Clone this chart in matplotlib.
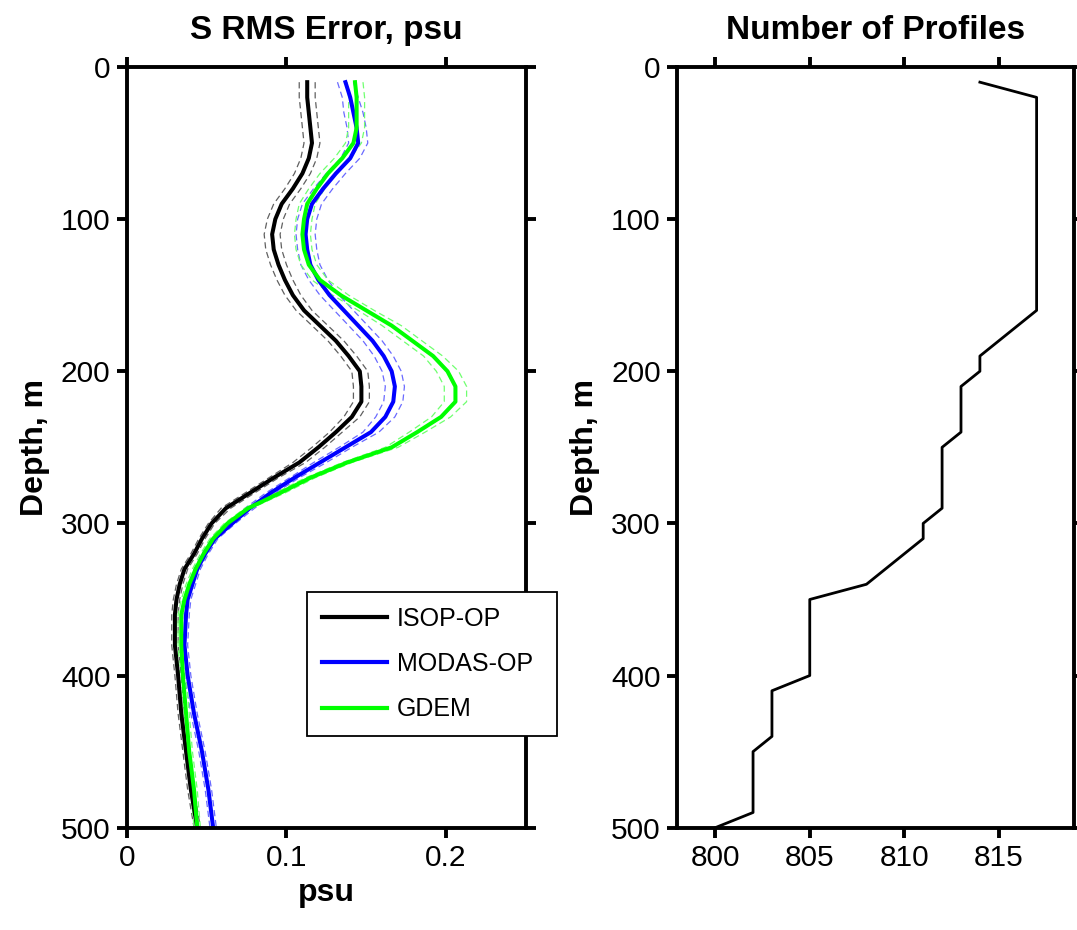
import matplotlib
matplotlib.use("Agg")
import matplotlib.pyplot as plt
from matplotlib.ticker import FuncFormatter

plt.rcParams['font.family'] = ['Liberation Sans', 'DejaVu Sans']

# ---- data ----
depth = [10, 20, 30, 40, 50, 60, 70, 80, 90, 100, 110, 120, 130, 140, 150, 160,
         170, 180, 190, 200, 210, 220, 230, 240, 250, 260, 270, 280, 290, 300,
         310, 320, 330, 340, 350, 360, 380, 400, 425, 450, 475, 500]

isop = [0.113, 0.113, 0.114, 0.115, 0.116, 0.114, 0.110, 0.104, 0.097, 0.093,
        0.091, 0.092, 0.095, 0.099, 0.104, 0.111, 0.121, 0.131, 0.139, 0.146,
        0.147, 0.147, 0.141, 0.131, 0.120, 0.108, 0.092, 0.077, 0.062, 0.053,
        0.047, 0.042, 0.036, 0.033, 0.031, 0.030, 0.030, 0.032, 0.034, 0.037,
        0.040, 0.044]

modas = [0.137, 0.140, 0.142, 0.144, 0.145, 0.140, 0.131, 0.123, 0.116, 0.113,
         0.112, 0.113, 0.115, 0.120, 0.127, 0.136, 0.145, 0.154, 0.161, 0.166,
         0.168, 0.167, 0.162, 0.153, 0.137, 0.121, 0.105, 0.090, 0.077, 0.066,
         0.055, 0.049, 0.044, 0.041, 0.038, 0.037, 0.036, 0.038, 0.042, 0.047,
         0.051, 0.054]

gdem = [0.143, 0.144, 0.144, 0.144, 0.142, 0.135, 0.126, 0.119, 0.113, 0.111,
        0.110, 0.111, 0.114, 0.121, 0.134, 0.150, 0.166, 0.179, 0.192, 0.201,
        0.206, 0.206, 0.197, 0.182, 0.166, 0.138, 0.115, 0.096, 0.076, 0.063,
        0.054, 0.048, 0.043, 0.039, 0.036, 0.034, 0.034, 0.035, 0.037, 0.039,
        0.042, 0.044]

# half-width of the dashed confidence bands
isop_err = [0.005, 0.005, 0.005, 0.005, 0.005, 0.005, 0.005, 0.005, 0.005, 0.005,
            0.005, 0.005, 0.005, 0.005, 0.005, 0.005, 0.005, 0.005, 0.005, 0.005,
            0.005, 0.005, 0.005, 0.004, 0.004, 0.004, 0.003, 0.003, 0.003, 0.002,
            0.002, 0.002, 0.002, 0.002, 0.002, 0.002, 0.002, 0.002, 0.002, 0.002,
            0.002, 0.002]
modas_err = [0.005, 0.005, 0.006, 0.006, 0.006, 0.006, 0.006, 0.006, 0.006, 0.006,
             0.006, 0.006, 0.006, 0.006, 0.006, 0.006, 0.006, 0.006, 0.006, 0.006,
             0.006, 0.006, 0.006, 0.005, 0.004, 0.004, 0.003, 0.003, 0.003, 0.002,
             0.002, 0.002, 0.002, 0.002, 0.002, 0.002, 0.002, 0.002, 0.002, 0.002,
             0.002, 0.002]
gdem_err = [0.005, 0.005, 0.005, 0.005, 0.005, 0.005, 0.005, 0.005, 0.005, 0.005,
            0.005, 0.005, 0.005, 0.005, 0.005, 0.005, 0.006, 0.006, 0.006, 0.007,
            0.007, 0.007, 0.006, 0.005, 0.004, 0.003, 0.003, 0.003, 0.002, 0.002,
            0.002, 0.002, 0.002, 0.002, 0.002, 0.002, 0.002, 0.002, 0.002, 0.002,
            0.002, 0.002]

prof_depth = [10, 20, 160, 190, 200, 210, 240, 250, 290, 300, 310, 320, 330, 340,
              350, 400, 410, 440, 450, 490, 500]
prof_count = [814, 817, 817, 814, 814, 813, 813, 812, 812, 811, 811, 810, 809, 808,
              805, 805, 803, 803, 802, 802, 800]

series = [("ISOP-OP", isop, isop_err, "#000000", "#606060"),
          ("MODAS-OP", modas, modas_err, "#0000ff", "#6a6aff"),
          ("GDEM", gdem, gdem_err, "#00ff00", "#70ff70")]

# ---- figure ----
fig = plt.figure(figsize=(10.77, 9.30), dpi=100)
ax1 = fig.add_axes([0.118, 0.110, 0.370, 0.818])
ax2 = fig.add_axes([0.629, 0.110, 0.3686, 0.818])

TICK_FS = 21.5
TITLE_FS = 24
LABEL_FS = 23

for name, vals, err, col, dcol in series:
    lo = [v - e for v, e in zip(vals, err)]
    hi = [v + e for v, e in zip(vals, err)]
    ax1.plot(lo, depth, color=dcol, lw=0.9, ls=(0, (5, 3)))
    ax1.plot(hi, depth, color=dcol, lw=0.9, ls=(0, (5, 3)))
for name, vals, err, col, dcol in series:
    ax1.plot(vals, depth, color=col, lw=2.9, label=name)

ax1.set_xlim(0, 0.25)
ax1.set_ylim(500, 0)
ax1.set_xticks([0, 0.1, 0.2])
ax1.xaxis.set_major_formatter(FuncFormatter(lambda v, p: "0" if v == 0 else f"{v:g}"))
ax1.set_yticks([0, 100, 200, 300, 400, 500])
ax1.set_title("S RMS Error, psu", fontsize=TITLE_FS, fontweight='bold', pad=20)
ax1.set_xlabel("psu", fontsize=LABEL_FS, fontweight='bold', labelpad=4)
ax1.set_ylabel("Depth, m", fontsize=LABEL_FS, fontweight='bold', labelpad=8)

leg = ax1.legend(loc='upper left', bbox_to_anchor=(0.451, 0.117, 0.627, 0.193),
                 mode='expand', fontsize=18,
                 frameon=True, fancybox=False, framealpha=1.0, handlelength=2.6,
                 handletextpad=0.4, borderpad=0.6, labelspacing=0.85, borderaxespad=0)
leg.get_frame().set_edgecolor('black')
leg.get_frame().set_linewidth(1.3)
leg.set_zorder(10)
for line in leg.get_lines():
    line.set_linewidth(3.0)

ax2.plot(prof_count, prof_depth, color='black', lw=2.0)
ax2.set_xlim(798, 819)
ax2.set_ylim(500, 0)
ax2.set_xticks([800, 805, 810, 815])
ax2.set_yticks([0, 100, 200, 300, 400, 500])
ax2.set_title("Number of Profiles", fontsize=TITLE_FS, fontweight='bold', pad=20)
ax2.set_ylabel("Depth, m", fontsize=LABEL_FS, fontweight='bold', labelpad=8)

for ax in (ax1, ax2):
    for s in ax.spines.values():
        s.set_linewidth(2.8)
    ax.tick_params(direction='out', length=7, width=2.8, labelsize=TICK_FS,
                   top=True, right=True, pad=5)

fig.savefig("out.png", dpi=100)
